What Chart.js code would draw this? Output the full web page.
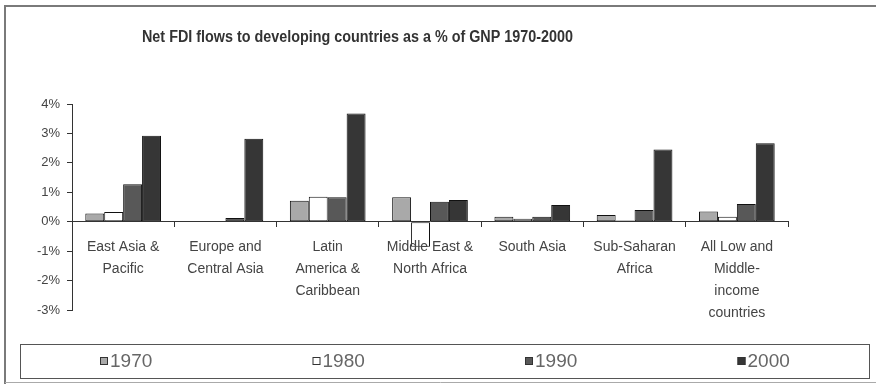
<!DOCTYPE html>
<html><head><meta charset="utf-8">
<script src="https://cdn.jsdelivr.net/npm/chart.js@4/dist/chart.umd.min.js"></script>
<style>html,body{margin:0;padding:0;background:#fff}#wrap{width:876px;height:384px;position:relative}</style>
</head><body><div id="wrap"><canvas id="c" width="876" height="384"></canvas></div>
<script>
const titleText = 'Net FDI flows to developing countries as a % of GNP 1970-2000';
const categories = [
  ['East Asia &', 'Pacific'],
  ['Europe and', 'Central Asia'],
  ['Latin', 'America &', 'Caribbean'],
  ['Middle East &', 'North Africa'],
  ['South Asia'],
  ['Sub-Saharan', 'Africa'],
  ['All Low and', 'Middle-', 'income', 'countries']
];
const seriesNames = ['1970', '1980', '1990', '2000'];
const v1970 = [0.28, 0.00, 0.71, 0.83, 0.17, 0.23, 0.35];
const v1980 = [0.33, 0.00, 0.85, -0.85, 0.10, 0.04, 0.17];
const v1990 = [1.27, 0.13, 0.83, 0.68, 0.17, 0.40, 0.60];
const v2000 = [2.92, 2.82, 3.68, 0.74, 0.57, 2.45, 2.67];
const yTickValues = [-3, -2, -1, 0, 1, 2, 3, 4];

const seriesValues = [v1970, v1980, v1990, v2000];
const seriesColors = ['#a9a9a9', '#ffffff', '#585858', '#363636'];

const framePlugin = {
  id: 'frame',
  beforeDraw(chart) {
    const ctx = chart.ctx;
    ctx.save();
    ctx.fillStyle = '#fff';
    ctx.fillRect(0, 0, chart.width, chart.height);
    ctx.strokeStyle = '#7a7a7a';
    ctx.lineWidth = 2;
    ctx.beginPath();
    ctx.moveTo(5, chart.height);
    ctx.lineTo(5, 6);
    ctx.lineTo(chart.width, 6);
    ctx.stroke();
    ctx.lineWidth = 1;
    ctx.strokeStyle = '#aaa';
    ctx.beginPath();
    ctx.moveTo(5, 382.5);
    ctx.lineTo(chart.width, 382.5);
    ctx.stroke();
    // title, condensed to the reference width
    ctx.fillStyle = '#333';
    ctx.font = 'bold 16px "Liberation Sans", Arial, sans-serif';
    ctx.textAlign = 'center';
    ctx.textBaseline = 'middle';
    const w = ctx.measureText(titleText).width;
    const sx = Math.min(1, 431 / w);
    ctx.translate(357.5, 38);
    ctx.scale(sx, 1);
    ctx.fillText(titleText, 0, 0);
    ctx.restore();
  },
  afterDraw(chart) {
    const ctx = chart.ctx;
    ctx.save();
    ctx.strokeStyle = '#555';
    ctx.lineWidth = 1;
    ctx.strokeRect(20.5, 344.5, 849, 34);
    ctx.font = '19px "Liberation Sans", Arial, sans-serif';
    ctx.textBaseline = 'middle';
    ctx.textAlign = 'left';
    chart.data.datasets.forEach((d, i) => {
      const x = 100 + i * 212.5, y = 361;
      ctx.fillStyle = d.backgroundColor;
      ctx.fillRect(x, y - 4, 8, 8);
      ctx.strokeStyle = '#333';
      ctx.strokeRect(x + 0.5, y - 3.5, 7, 7);
      ctx.fillStyle = '#666';
      ctx.fillText(d.label, x + 10, y + 1);
    });
    ctx.restore();
  }
};

new Chart(document.getElementById('c'), {
  type: 'bar',
  data: {
    labels: categories,
    datasets: seriesNames.map((n, i) => ({
      label: n,
      data: seriesValues[i],
      backgroundColor: seriesColors[i],
      borderColor: '#111',
      borderWidth: 1,
      borderSkipped: false,
      categoryPercentage: 0.74,
      barPercentage: 1.0
    }))
  },
  options: {
    responsive: false,
    animation: false,
    events: [],
    layout: { padding: { left: 0, right: 88, top: 104, bottom: 74 } },
    plugins: { legend: { display: false }, title: { display: false }, tooltip: { enabled: false } },
    scales: {
      x: {
        position: { y: 0 },
        grid: { display: true, drawOnChartArea: false, drawTicks: true, tickLength: 5, tickColor: '#333', offset: true },
        border: { display: true, color: '#333', width: 1, z: 1 },
        ticks: {
          z: 1,
          color: '#444',
          font: { family: '"Liberation Sans", Arial, sans-serif', size: 14, lineHeight: 1.55 },
          padding: 10,
          maxRotation: 0,
          autoSkip: false
        }
      },
      y: {
        min: yTickValues[0],
        max: yTickValues[yTickValues.length - 1],
        afterFit(scale) { scale.width = 72; },
        afterBuildTicks(scale) { scale.ticks = yTickValues.map(v => ({ value: v })); },
        grid: { display: true, drawOnChartArea: false, drawTicks: true, tickLength: 5, tickColor: '#333' },
        border: { display: true, color: '#333', width: 1 },
        ticks: {
          color: '#444',
          font: { family: '"Liberation Sans", Arial, sans-serif', size: 13 },
          padding: 7,
          callback: v => v + '%'
        }
      }
    }
  },
  plugins: [framePlugin]
});
</script>
</body></html>
